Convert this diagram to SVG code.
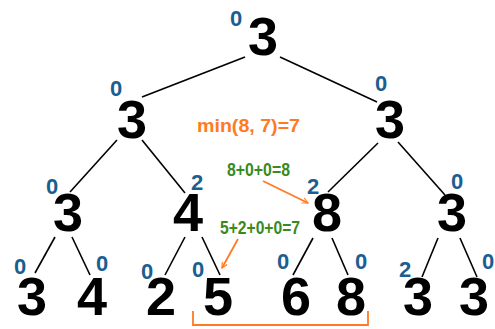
<svg xmlns="http://www.w3.org/2000/svg" width="495" height="329" viewBox="0 0 495 329">
<style>
.n{font-family:"Liberation Sans",Arial,sans-serif;font-weight:bold;font-size:54px;fill:#000;text-anchor:middle}
.b{font-family:"Liberation Sans",Arial,sans-serif;font-weight:bold;font-size:22px;fill:#1b5e91;text-anchor:middle}
.g{font-family:"Liberation Sans",Arial,sans-serif;font-weight:bold;font-size:19px;fill:#3a8a1e}
.o{font-family:"Liberation Sans",Arial,sans-serif;font-weight:bold;font-size:18px;fill:#ff7a22}
.e{stroke:#000;stroke-width:1.6;fill:none}
.a{stroke:#ff7a22;stroke-width:1.8;fill:none}
</style>
<defs>
<marker id="ah" viewBox="0 0 10 10" refX="9" refY="5" markerWidth="7" markerHeight="7" orient="auto" markerUnits="userSpaceOnUse">
<path d="M1,1 L9,5 L1,9" fill="none" stroke="#ff7a22" stroke-width="1.6"/>
</marker>
</defs>
<rect width="495" height="329" fill="#fff"/>
<g id="connectors">
<path class="e" d="M245,57 L142,97"/>
<path class="e" d="M280,57 L377,102"/>
<path class="e" d="M117,140 L70,192"/>
<path class="e" d="M142,140 L185,193"/>
<path class="e" d="M378,143 L328,192"/>
<path class="e" d="M398,142 L445,195"/>
<path class="e" d="M55,237 L35,273"/>
<path class="e" d="M72,237 L90,275"/>
<path class="e" d="M185,237 L165,275"/>
<path class="e" d="M202,237 L220,275"/>
<path class="e" d="M313,238 L293,275"/>
<path class="e" d="M332,238 L348,275"/>
<path class="e" d="M438,238 L422,277"/>
<path class="e" d="M460,238 L477,277"/>
</g>
<g id="root"><text class="b" x="236" y="26">0</text><text class="n" x="263" y="55">3</text></g>
<g id="l1a"><text class="b" x="116" y="96">0</text><text class="n" x="132" y="138">3</text></g>
<g id="l1b"><text class="b" x="381" y="91">0</text><text class="n" x="390" y="138">3</text></g>
<g id="l2a"><text class="b" x="52" y="194">0</text><text class="n" x="68" y="231">3</text></g>
<g id="l2b"><text class="b" x="197" y="190">2</text><text class="n" x="188" y="231">4</text></g>
<g id="l2c"><text class="b" x="313" y="194">2</text><text class="n" x="327" y="231">8</text></g>
<g id="l2d"><text class="b" x="457" y="189">0</text><text class="n" x="452" y="231">3</text></g>
<g id="l3a"><text class="b" x="20" y="274">0</text><text class="n" x="32" y="315">3</text></g>
<g id="l3b"><text class="b" x="102" y="271">0</text><text class="n" x="92" y="315">4</text></g>
<g id="l3c"><text class="b" x="147" y="279">0</text><text class="n" x="161" y="315">2</text></g>
<g id="l3d"><text class="b" x="198" y="277">0</text><text class="n" x="218" y="315">5</text></g>
<g id="l3e"><text class="b" x="283" y="269">0</text><text class="n" x="296" y="315">6</text></g>
<g id="l3f"><text class="b" x="361" y="269">0</text><text class="n" x="351" y="315">8</text></g>
<g id="l3g"><text class="b" x="405" y="277">2</text><text class="n" x="418" y="315">3</text></g>
<g id="l3h"><text class="b" x="488" y="269">0</text><text class="n" x="474" y="315">3</text></g>
<g id="annotations">
<text class="o" x="197" y="132" textLength="103" lengthAdjust="spacingAndGlyphs">min(8, 7)=7</text>
<text class="g" x="227" y="176" textLength="63" lengthAdjust="spacingAndGlyphs">8+0+0=8</text>
<text class="g" x="220" y="234" textLength="80" lengthAdjust="spacingAndGlyphs">5+2+0+0=7</text>
<path class="a" d="M263,181 L308,203" marker-end="url(#ah)"/>
<path class="a" d="M238,239 L222,268" marker-end="url(#ah)"/>
<path class="a" d="M193,311 V325 H368 V311"/>
</g>
</svg>
